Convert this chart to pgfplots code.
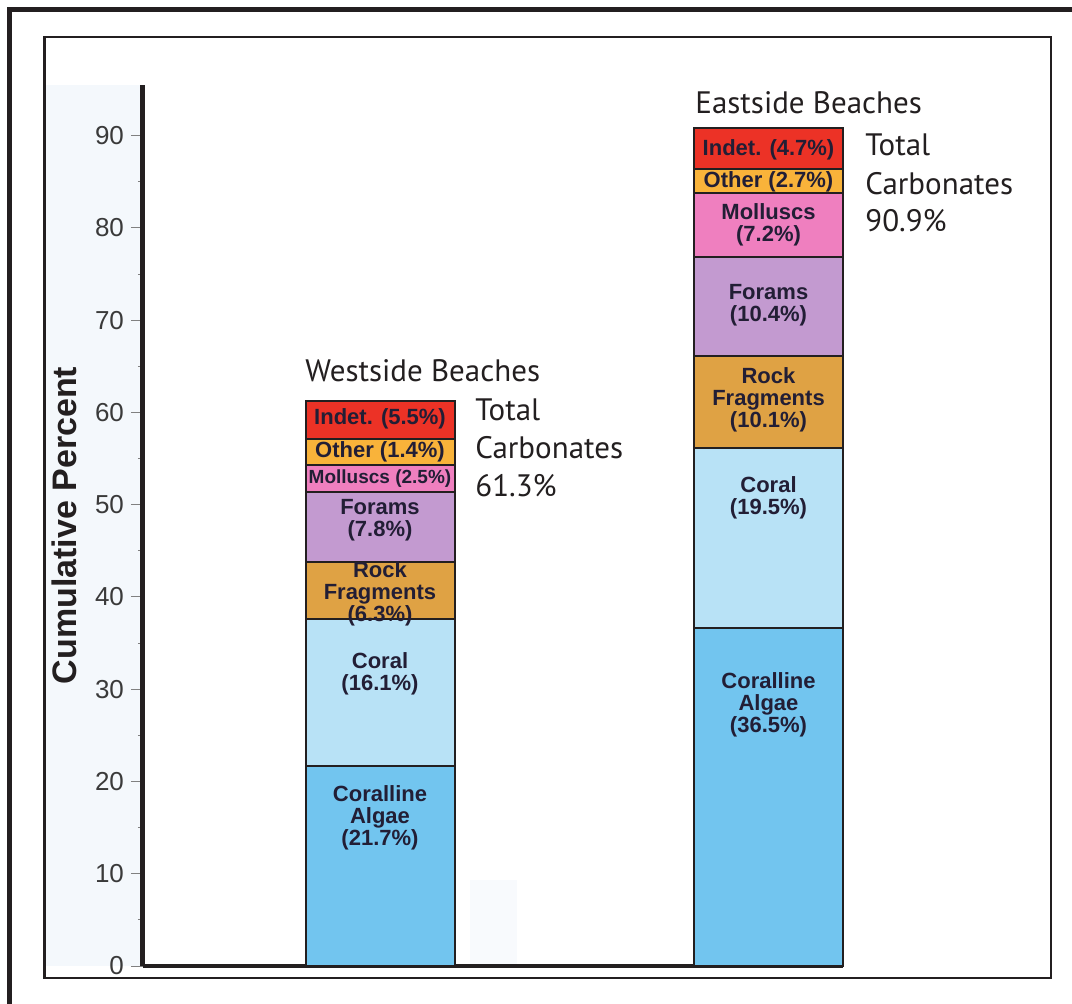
\documentclass[border=0pt]{standalone}
\usepackage{fontspec}
\setmainfont{Liberation Sans}
\newfontfamily\annot{PT Sans}
\usepackage{pgfplots}
\pgfplotsset{compat=1.18}

\definecolor{frame}{HTML}{231F20}
\definecolor{panel}{HTML}{F4F8FC}
\definecolor{panelb}{HTML}{F8FAFD}
\definecolor{ticktext}{HTML}{3A3A3A}
\definecolor{labtext}{HTML}{221E35}
\definecolor{calg}{HTML}{72C5EF}
\definecolor{coral}{HTML}{B8E2F6}
\definecolor{rock}{HTML}{DFA244}
\definecolor{forams}{HTML}{C39AD0}
\definecolor{moll}{HTML}{EF7FBF}
\definecolor{other}{HTML}{F9B33A}
\definecolor{indet}{HTML}{EC3226}

\begin{document}
\begin{tikzpicture}[
  seglab/.style={font=\fontsize{11}{11}\selectfont\bfseries, align=center, text=labtext, inner sep=0pt},
  annot/.style={font=\annot\fontsize{15.5}{15.5}\selectfont, text=frame, anchor=base west, inner sep=0pt}
]
\useasboundingbox (0,0) rectangle (536pt,501.5pt);
% scan background and frames
\fill[panel] (23pt,18.5pt) rectangle (70pt,459pt);
\fill[panelb] (235pt,19pt) rectangle (258.5pt,61.5pt);
\draw[line width=2.5pt, frame] (4.75pt,-5pt) -- (4.75pt,496.75pt) -- (545pt,496.75pt);
\draw[line width=1.25pt, frame] (22.25pt,12.5pt) rectangle (525.5pt,483pt);

\begin{axis}[
  at={(71.5pt,18.5pt)}, anchor=south west,
  scale only axis, width=350pt, height=440.5pt,
  xmin=0, xmax=700, ymin=0, ymax=95.5,
  axis lines=left, axis line style={-},
  x axis line style={line width=1.75pt, color=frame},
  y axis line style={line width=2.5pt, color=frame},
  xtick=\empty,
  ytick={0,10,...,90},
  minor y tick num=1,
  tick align=outside,
  major tick length=6pt, minor tick length=2.5pt,
  tick style={gray, line width=0.5pt},
  yticklabel style={font=\fontsize{13}{13}\selectfont, text=ticktext},
  /pgf/number format/assume math mode=true,
  ylabel={Cumulative Percent},
  every axis y label/.style={at={(axis description cs:-0.113,0.5)}, rotate=90, anchor=center,
    font=\fontsize{17}{17}\selectfont\bfseries, text=frame},
  ybar stacked, bar width=149,
  clip=false,
]
% x: 237 = Westside Beaches, 625.5 = Eastside Beaches
% segment heights as drawn in the figure
\addplot[fill=calg, draw=frame, line width=1pt] coordinates {(237,21.7) (625.5,36.6)};
\addplot[fill=coral, draw=frame, line width=1pt] coordinates {(237,15.9) (625.5,19.5)};
\addplot[fill=rock, draw=frame, line width=1pt] coordinates {(237,6.2) (625.5,10.0)};
\addplot[fill=forams, draw=frame, line width=1pt] coordinates {(237,7.6) (625.5,10.8)};
\addplot[fill=moll, draw=frame, line width=1pt] coordinates {(237,2.9) (625.5,6.9)};
\addplot[fill=other, draw=frame, line width=1pt] coordinates {(237,2.8) (625.5,2.6)};
\addplot[fill=indet, draw=frame, line width=1pt] coordinates {(237,4.1) (625.5,4.4)};

% label anchors (labels drawn after the axis, on top of the bars)
\coordinate (w1) at (axis cs:237,16.05);
\coordinate (w2) at (axis cs:237,31.66);
\coordinate (w3) at (axis cs:237,40.34);
\coordinate (w4) at (axis cs:237,48.3);
\coordinate (w5) at (axis cs:237,52.88);
\coordinate (w6) at (axis cs:237,55.7);
\coordinate (w7) at (axis cs:237,59.3);
\coordinate (e1) at (axis cs:625.5,28.3);
\coordinate (e2) at (axis cs:625.5,50.75);
\coordinate (e3) at (axis cs:625.5,61.38);
\coordinate (e4) at (axis cs:625.5,71.6);
\coordinate (e5) at (axis cs:625.5,80.35);
\coordinate (e6) at (axis cs:625.5,85.0);
\coordinate (e7) at (axis cs:625.5,88.5);

% titles and totals
\node[annot] at (axis cs:162,63.33) {Westside Beaches};
\node[annot] at (axis cs:332,59.1) {Total};
\node[annot] at (axis cs:332,54.98) {Carbonates};
\node[annot] at (axis cs:332,50.86) {61.3\%};
\node[annot] at (axis cs:552,92.46) {Eastside Beaches};
\node[annot] at (axis cs:722,87.83) {Total};
\node[annot] at (axis cs:722,83.68) {Carbonates};
\node[annot] at (axis cs:722,79.63) {90.9\%};
\end{axis}

\node[seglab] at (w1) {Coralline\\Algae\\(21.7\%)};
\node[seglab] at (w2) {Coral\\(16.1\%)};
\node[seglab] at (w3) {Rock\\Fragments\\(6.3\%)};
\node[seglab] at (w4) {Forams\\(7.8\%)};
\node[seglab, font=\fontsize{9.5}{9.5}\selectfont\bfseries] at (w5) {Molluscs (2.5\%)};
\node[seglab] at (w6) {Other (1.4\%)};
\node[seglab] at (w7) {Indet. (5.5\%)};
\node[seglab] at (e1) {Coralline\\Algae\\(36.5\%)};
\node[seglab] at (e2) {Coral\\(19.5\%)};
\node[seglab] at (e3) {Rock\\Fragments\\(10.1\%)};
\node[seglab] at (e4) {Forams\\(10.4\%)};
\node[seglab] at (e5) {Molluscs\\(7.2\%)};
\node[seglab] at (e6) {Other (2.7\%)};
\node[seglab] at (e7) {Indet. (4.7\%)};
\end{tikzpicture}
\end{document}
